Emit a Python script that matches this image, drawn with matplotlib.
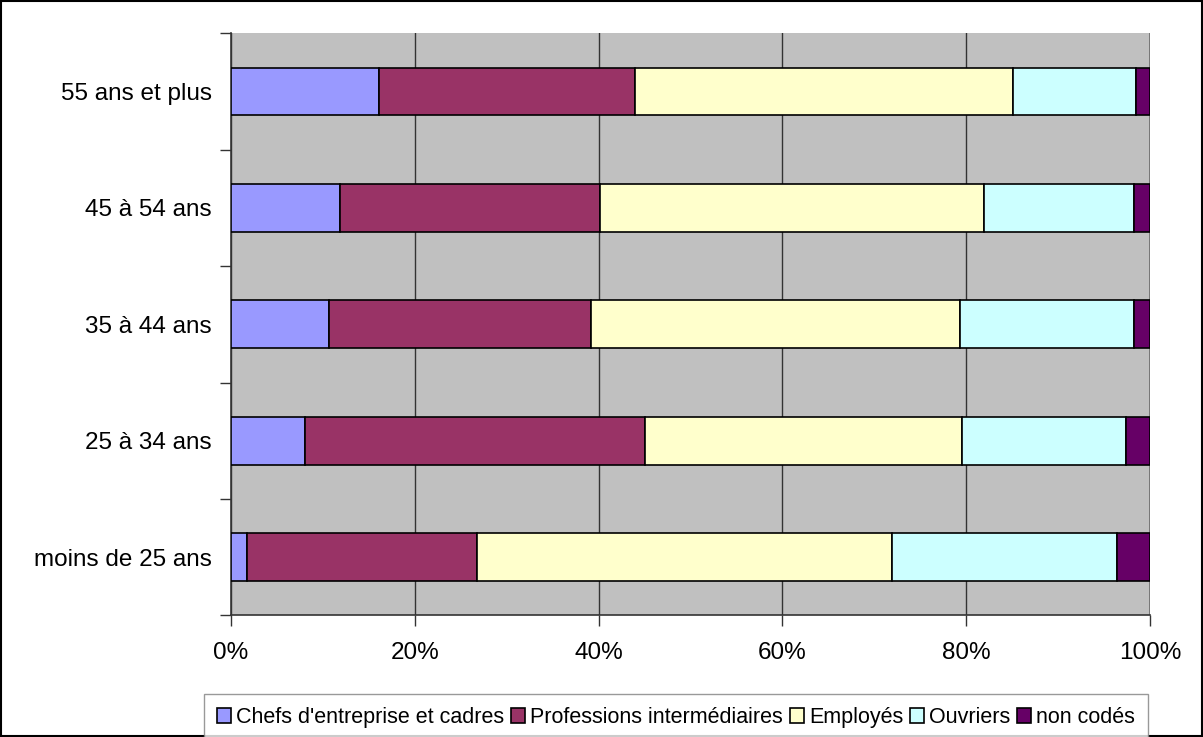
import numpy as np
import matplotlib
matplotlib.use("Agg")
import matplotlib.pyplot as plt
from matplotlib.patches import Rectangle
from matplotlib.ticker import FixedLocator, PercentFormatter

plt.rcParams['font.family'] = ['Liberation Sans', 'DejaVu Sans']

# Age groups, bottom to top
ages = ['moins de 25 ans', '25 à 34 ans', '35 à 44 ans', '45 à 54 ans', '55 ans et plus']

# Shares (%) per socio-professional category
chefs = [1.7, 8.1, 10.7, 11.9, 16.1]
professions = [25.1, 36.9, 28.5, 28.3, 27.9]
employes = [45.1, 34.5, 40.1, 41.7, 41.1]
ouvriers = [24.5, 17.9, 18.9, 16.3, 13.4]
non_codes = [3.6, 2.6, 1.8, 1.8, 1.5]

series = [
    ("Chefs d'entreprise et cadres", chefs, '#9999FF'),
    ('Professions intermédiaires', professions, '#993366'),
    ('Employés', employes, '#FFFFCC'),
    ('Ouvriers', ouvriers, '#CCFFFF'),
    ('non codés', non_codes, '#660066'),
]

fs_ticks = 17.5
fs_leg = 15.5

fig = plt.figure(figsize=(12.03, 7.37), dpi=100)
ax = fig.add_axes([0.192, 0.165, 0.764, 0.790])
ax.set_facecolor('#C0C0C0')

y = np.arange(len(ages))
left = np.zeros(len(ages))
for name, vals, color in series:
    vals = np.array(vals, dtype=float)
    ax.barh(y, vals, left=left, height=0.41, color=color, edgecolor='black',
            linewidth=1.2, label=name, zorder=3)
    left += vals

ax.set_xlim(0, 100)
ax.set_ylim(-0.5, len(ages) - 0.5)
ax.xaxis.set_major_locator(FixedLocator([0, 20, 40, 60, 80, 100]))
ax.xaxis.set_major_formatter(PercentFormatter(decimals=0))
ax.grid(axis='x', color='#333333', linewidth=1, zorder=0)

# tick marks on category boundaries, labels at category centres
ax.yaxis.set_major_locator(FixedLocator(np.arange(-0.5, len(ages), 1.0)))
ax.set_yticklabels([])
ax.yaxis.set_minor_locator(FixedLocator(y))
ax.set_yticklabels(ages, minor=True)
ax.tick_params(axis='y', which='minor', length=0, pad=14, labelsize=fs_ticks)
ax.tick_params(axis='y', which='major', length=8, width=1, color='#333333')
ax.tick_params(axis='x', length=8, width=1, color='#333333', pad=11, labelsize=fs_ticks)

for side in ['top', 'right']:
    ax.spines[side].set_visible(False)
ax.spines['left'].set_color('#333333')
ax.spines['bottom'].set_color('#333333')
ax.spines['left'].set_linewidth(1.2)
ax.spines['bottom'].set_linewidth(1.2)
ax.axvline(100, color='#808080', linewidth=1.2, zorder=1)

leg = fig.legend(loc='upper center', bbox_to_anchor=(0.562, 0.0583), ncol=5,
                 fontsize=fs_leg, frameon=True, fancybox=False, edgecolor='#808080',
                 handlelength=0.65, handleheight=0.65, handletextpad=0.25,
                 columnspacing=0.3, borderpad=0.6, borderaxespad=0)
leg.get_frame().set_linewidth(1)

fig.patches.append(Rectangle((0.001, 0.001), 0.998, 0.998, transform=fig.transFigure,
                             fill=False, edgecolor='black', linewidth=1.5))

fig.savefig('out.png', dpi=100, facecolor='white')
